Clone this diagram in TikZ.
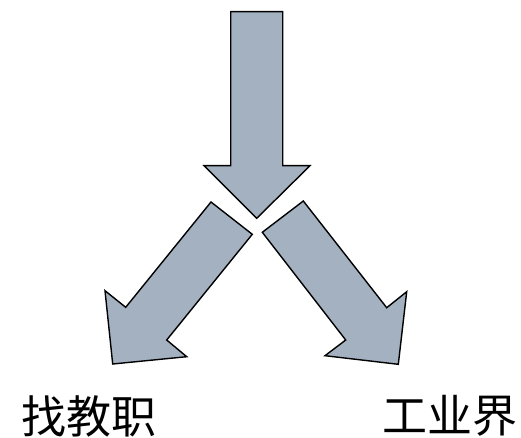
\documentclass[tikz,border=0pt]{standalone}
\usepackage{fontspec}
\newfontfamily\cjk{Noto Sans CJK SC}
\definecolor{arrowfill}{RGB}{163,177,192}
\begin{document}
\begin{tikzpicture}[x=1pt,y=-1pt,
  blockarrow/.style={fill=arrowfill,draw=black,line width=1.4pt,line join=miter},
  label/.style={font=\cjk\fontsize{45}{50}\selectfont,inner sep=0pt}]
\useasboundingbox (0,0) rectangle (521,438);
% down arrow
\draw[blockarrow] (230.7,11.7) -- (282.7,11.7) -- (282.7,165.7) -- (310,165.7) -- (256.7,218.3) -- (204,165.7) -- (230.7,165.7) -- cycle;
% left arrow
\draw[blockarrow] (211,202) -- (252.3,234.3) -- (166.7,340) -- (186.7,356.7) -- (112.7,364) -- (105,290.7) -- (125.7,307.3) -- cycle;
% right arrow
\draw[blockarrow] (303.3,201) -- (262.3,232.3) -- (345.7,340) -- (325,355.7) -- (398.3,364.3) -- (406.7,291.7) -- (386.7,307.7) -- cycle;
\node[label] (left) at (88.5,416) {找教职};
\node[label] (right) at (450,416) {工业界};
\end{tikzpicture}
\end{document}
